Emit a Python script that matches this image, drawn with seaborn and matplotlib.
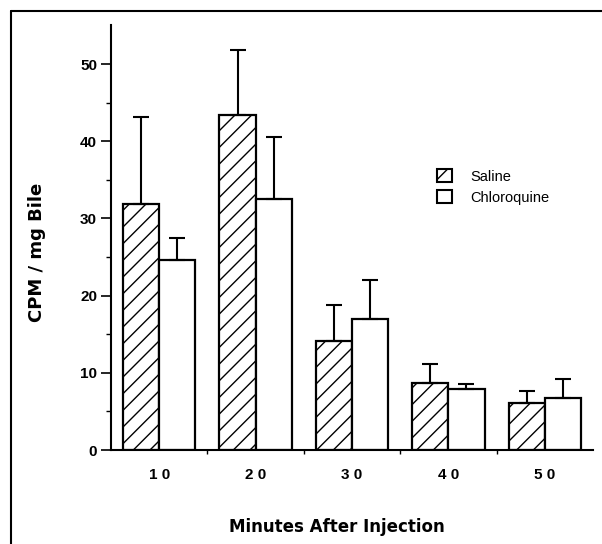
import matplotlib
matplotlib.use("Agg")
import matplotlib.pyplot as plt
import seaborn as sns
import pandas as pd
import numpy as np
from matplotlib.patches import Patch
from matplotlib.lines import Line2D

# ---- data ----
minutes = [10, 20, 30, 40, 50]
tick_labels = ["1 0", "2 0", "3 0", "4 0", "5 0"]
groups = ["Saline", "Chloroquine"]
saline = [31.9, 43.4, 14.1, 8.7, 6.1]
saline_err = [11.2, 8.4, 4.7, 2.4, 1.5]
chloroquine = [24.6, 32.5, 17.0, 7.9, 6.8]
chloroquine_err = [2.8, 8.0, 5.0, 0.6, 2.4]

df = pd.DataFrame({
    "Minutes": minutes * 2,
    "Treatment": [groups[0]] * len(minutes) + [groups[1]] * len(minutes),
    "CPM": saline + chloroquine,
})

sns.set_style("ticks")
plt.rcParams["font.family"] = ["Liberation Sans", "DejaVu Sans"]
plt.rcParams["hatch.linewidth"] = 1.0
plt.rcParams["hatch.color"] = "black"
plt.rcParams["text.color"] = "black"
plt.rcParams["axes.labelcolor"] = "black"
plt.rcParams["xtick.color"] = "black"
plt.rcParams["ytick.color"] = "black"

fig = plt.figure(figsize=(6.02, 5.44), dpi=100)
ax = fig.add_axes([111 / 602, 94 / 544, 482 / 602, 424.6 / 544])

sns.barplot(data=df, x="Minutes", y="CPM", hue="Treatment", hue_order=groups,
            palette=["white", "white"], edgecolor="black", linewidth=1.6,
            width=0.75, errorbar=None, legend=False, saturation=1, ax=ax)

errs = {groups[0]: saline_err, groups[1]: chloroquine_err}
for cont, g in zip(ax.containers, groups):
    xs, ys = [], []
    for p in cont.patches:
        if g == "Saline":
            p.set_hatch("//")
        xs.append(p.get_x() + p.get_width() / 2)
        ys.append(p.get_height())
    e = np.array(errs[g])
    ax.errorbar(xs, ys, yerr=[np.zeros_like(e), e], fmt="none", ecolor="black",
                elinewidth=1.5, capsize=6, capthick=1.5)

ax.set_xlim(-0.5, 4.5)
ax.set_ylim(0, 55)
ax.set_yticks([0, 10, 20, 30, 40, 50])
ax.set_yticks([5, 15, 25, 35, 45], minor=True)
ax.set_xticks(range(len(minutes)))
ax.set_xticklabels(tick_labels)
ax.set_xticks([0.5, 1.5, 2.5, 3.5], minor=True)

for s in ["top", "right"]:
    ax.spines[s].set_visible(False)
for s in ["left", "bottom"]:
    ax.spines[s].set_linewidth(1.5)
    ax.spines[s].set_color("black")

ax.tick_params(axis="y", which="major", length=7, width=1.2, labelsize=11, pad=3, colors="black")
ax.tick_params(axis="y", which="minor", length=3.5, width=1.0)
ax.tick_params(axis="x", which="major", length=0, labelsize=11, pad=13, colors="black")
ax.tick_params(axis="x", which="minor", length=3, width=1.0)
for lab in ax.get_xticklabels() + ax.get_yticklabels():
    lab.set_fontweight("bold")

ax.set_xlabel("Minutes After Injection", fontsize=12, fontweight="bold",
              family="DejaVu Sans", color="black")
ax.xaxis.set_label_coords(0.469, -0.160)
ax.set_ylabel("CPM / mg Bile", fontsize=13, fontweight="bold",
              family="DejaVu Sans", color="black")
ax.yaxis.set_label_coords(-0.135, 0.466)

handles = [Patch(facecolor="white", edgecolor="black", hatch="//", linewidth=1.5),
           Patch(facecolor="white", edgecolor="black", linewidth=1.5)]
leg = fig.legend(handles, groups, loc="upper left", bbox_to_anchor=(437 / 602, 1 - 169 / 544),
                 frameon=False, borderpad=0, borderaxespad=0, handlelength=1.0, handleheight=1.0,
                 handletextpad=1.3, labelspacing=0.45, fontsize=10.5)
for t in leg.get_texts():
    t.set_color("black")

# outer frame (top and left)
fig.add_artist(Line2D([11 / 602, 1], [1 - 11 / 544, 1 - 11 / 544], color="black", lw=1.5,
                      transform=fig.transFigure))
fig.add_artist(Line2D([11 / 602, 11 / 602], [0, 1 - 11 / 544], color="black", lw=1.5,
                      transform=fig.transFigure))

fig.savefig("out.png", dpi=100)
